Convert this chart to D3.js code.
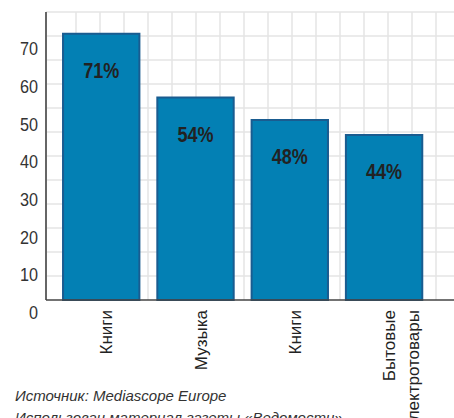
<!DOCTYPE html>
<html>
<head>
<meta charset="utf-8">
<script src="https://cdn.jsdelivr.net/npm/d3@7"></script>
<style>
  body { margin: 0; background: #fff; }
  svg { display: block; }
  .tick text { font-family: "Liberation Sans", sans-serif; font-size: 18px; fill: #333; }
  .value { font-family: "Liberation Sans", sans-serif; font-weight: bold; font-size: 22px; fill: #222; }
  .cat { font-family: "Liberation Sans", sans-serif; font-size: 17px; fill: #222; }
  .source { font-family: "Liberation Sans", sans-serif; font-style: italic; font-size: 15px; fill: #333; }
</style>
</head>
<body>
<div id="chart"></div>
<script>
(function () {
  const categories = [["Книги"], ["Музыка"], ["Книги"], ["Бытовые", "электротовары"]];
  const values = [71, 54, 48, 44];
  const tickValues = [0, 10, 20, 30, 40, 50, 60, 70];
  const notes = ["Источник: Mediascope Europe", "Использован материал газеты «Ведомости»"];

  const width = 454;
  const height = 418;
  const left = 46, top = 12, bottom = 300, right = 454;
  const gridStep = 24;
  const narrow = 0.82; // the print uses a condensed face

  const svg = d3.select("#chart").append("svg")
    .attr("width", width)
    .attr("height", height);

  // square background grid
  const grid = svg.append("g").attr("stroke", "#e4e4e4").attr("stroke-width", 1.5);
  grid.selectAll("line.h")
    .data(d3.range(top, bottom, gridStep))
    .join("line")
    .attr("x1", left).attr("x2", right)
    .attr("y1", d => d).attr("y2", d => d);
  grid.selectAll("line.v")
    .data(d3.range(left + 30, right + gridStep, gridStep))
    .join("line")
    .attr("x1", d => d).attr("x2", d => d)
    .attr("y1", top).attr("y2", bottom);

  const x = d3.scaleBand()
    .domain(d3.range(values.length))
    .range([53.6, 431.7])
    .paddingInner(0.19)
    .paddingOuter(0.1);

  const y = d3.scaleLinear()
    .domain([0, 76.8])
    .range([bottom, top]);

  // the printed labels sit a little below the bars' scale
  const yLabels = d3.scaleLinear()
    .domain([0, 70])
    .range([312, 48.5]);

  svg.append("g")
    .selectAll("rect")
    .data(values)
    .join("rect")
    .attr("x", (d, i) => x(i))
    .attr("y", d => y(d))
    .attr("width", x.bandwidth())
    .attr("height", d => y(0) - y(d))
    .attr("fill", "#0380b4")
    .attr("stroke", "#1a5c90")
    .attr("stroke-width", 2);

  svg.append("g")
    .selectAll("text")
    .data(values)
    .join("text")
    .attr("class", "value")
    .attr("transform", (d, i) => "translate(" + (x(i) + x.bandwidth() / 2) + "," + (y(d) + 44) + ") scale(" + narrow + ",1)")
    .attr("text-anchor", "middle")
    .text(d => d + "%");

  // axes
  svg.append("line")
    .attr("x1", left).attr("x2", left)
    .attr("y1", top).attr("y2", bottom)
    .attr("stroke", "#666").attr("stroke-width", 2);
  svg.append("line")
    .attr("x1", left).attr("x2", right)
    .attr("y1", bottom).attr("y2", bottom)
    .attr("stroke", "#444").attr("stroke-width", 1.5);

  const yAxis = svg.append("g")
    .attr("transform", "translate(" + (left - 8) + ",0)")
    .call(d3.axisLeft(yLabels).tickValues(tickValues).tickSize(0).tickPadding(0));
  yAxis.select(".domain").remove();
  yAxis.selectAll(".tick text")
    .attr("dy", "0.35em")
    .attr("transform", "scale(0.9,1)");

  const cats = svg.append("g")
    .selectAll("text")
    .data(categories)
    .join("text")
    .attr("class", "cat")
    .attr("text-anchor", "end")
    .attr("transform", (d, i) => "translate(" + (x(i) + x.bandwidth() / 2 + 11) + ",310) rotate(-90)");
  cats.selectAll("tspan")
    .data(d => d)
    .join("tspan")
    .attr("x", 0)
    .attr("dy", (d, i) => i === 0 ? 0 : 24)
    .text(d => d);

  svg.append("g")
    .selectAll("text")
    .data(notes)
    .join("text")
    .attr("class", "source")
    .attr("x", 15)
    .attr("y", (d, i) => 401 + i * 22)
    .text(d => d);
})();
</script>
</body>
</html>
